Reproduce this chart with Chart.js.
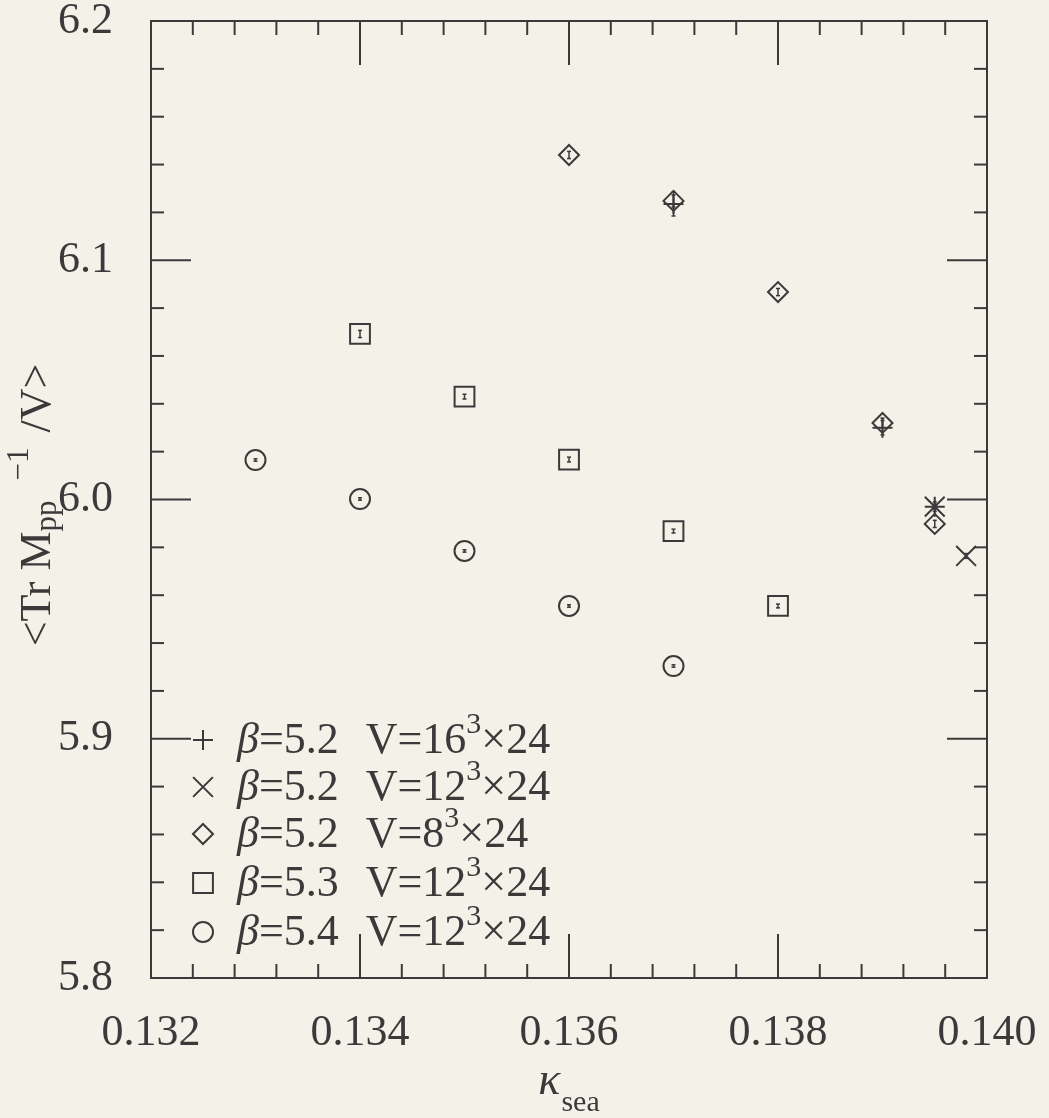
<!DOCTYPE html>
<html lang="en">
<head>
  <meta charset="UTF-8">
  <title>Tr M_pp^-1 / V versus kappa_sea</title>
  <script src="https://cdn.jsdelivr.net/npm/chart.js"></script>
  <style>
    html, body {
      margin: 0;
      padding: 0;
      background: #f4f1e8;
    }
    #wrap {
      width: 1049px;
      height: 1118px;
    }
  </style>
</head>
<body>
  <div id="wrap"><canvas id="traceChart" width="1049" height="1118"></canvas></div>

  <script>
    // beta = 5.2, V = 16^3 x 24
    const kappaA = [0.137, 0.139, 0.1395];
    const traceA = [6.1235, 6.030, 5.997];
    const errA = [0.005, 0.003, 0.002];

    // beta = 5.2, V = 12^3 x 24
    const kappaB = [0.1395, 0.1398];
    const traceB = [5.997, 5.9764];
    const errB = [0.001, 0.001];

    // beta = 5.2, V = 8^3 x 24
    const kappaC = [0.136, 0.137, 0.138, 0.139, 0.1395];
    const traceC = [6.144, 6.1248, 6.0867, 6.032, 5.9898];
    const errC = [0.0015, 0.0025, 0.0015, 0.002, 0.0015];

    // beta = 5.3, V = 12^3 x 24
    const kappaD = [0.134, 0.135, 0.136, 0.137, 0.138];
    const traceD = [6.0692, 6.043, 6.0167, 5.9868, 5.9555];
    const errD = [0.0015, 0.001, 0.001, 0.0008, 0.0008];

    // beta = 5.4, V = 12^3 x 24
    const kappaE = [0.133, 0.134, 0.135, 0.136, 0.137];
    const traceE = [6.0165, 6.0002, 5.9785, 5.9555, 5.9304];
    const errE = [0.0005, 0.0005, 0.0005, 0.0005, 0.0005];

    // legend text pieces
    const betaLabels = ['5.2', '5.2', '5.2', '5.3', '5.4'];
    const spatialSizes = ['16', '12', '8', '12', '12'];
    const timeSize = '24';

    // axis ranges and tick spacing
    const xMin = 0.132, xMax = 0.140, xStep = 0.002, xMinor = 0.0004;
    const yMin = 5.8, yMax = 6.2, yStep = 0.1, yMinor = 0.02;

    const ink = '#3a3a3a';
    const serif = '"Liberation Serif", "DejaVu Serif", serif';

    const toPoints = (xs, ys) => xs.map((k, i) => ({ x: k, y: ys[i] }));

    const markers = [
      { style: 'cross', radius: 10 },
      { style: 'crossRot', radius: 14 },
      { style: 'rectRot', radius: 10 },
      { style: 'rect', radius: 14 },
      { style: 'circle', radius: 10 }
    ];

    const series = [
      [kappaA, traceA, errA],
      [kappaB, traceB, errB],
      [kappaC, traceC, errC],
      [kappaD, traceD, errD],
      [kappaE, traceE, errE]
    ];

    const datasets = series.map(([xs, ys, es], i) => ({
      label: 'beta=' + betaLabels[i] + ' V=' + spatialSizes[i] + '^3x' + timeSize,
      data: toPoints(xs, ys),
      errors: es,
      pointStyle: markers[i].style,
      pointRadius: markers[i].radius,
      pointHoverRadius: markers[i].radius,
      pointBorderWidth: 2,
      borderColor: ink,
      backgroundColor: 'rgba(0,0,0,0)',
      showLine: false
    }));

    function seg(ctx, x1, y1, x2, y2) {
      ctx.beginPath();
      ctx.moveTo(x1, y1);
      ctx.lineTo(x2, y2);
      ctx.stroke();
    }

    // box around the plot with inward ticks on all four sides
    const frameTicks = {
      id: 'frameTicks',
      beforeDatasetsDraw(chart) {
        const { ctx, chartArea: a, scales: { x, y } } = chart;
        ctx.save();
        ctx.strokeStyle = ink;
        ctx.lineWidth = 2;
        ctx.strokeRect(a.left, a.top, a.right - a.left, a.bottom - a.top);
        const nx = Math.round((xMax - xMin) / xMinor);
        for (let i = 0; i <= nx; i++) {
          const px = x.getPixelForValue(xMin + i * xMinor);
          const len = i % 5 === 0 ? 44 : 14;
          seg(ctx, px, a.bottom, px, a.bottom - len);
          seg(ctx, px, a.top, px, a.top + len);
        }
        const ny = Math.round((yMax - yMin) / yMinor);
        for (let i = 0; i <= ny; i++) {
          const py = y.getPixelForValue(yMin + i * yMinor);
          const len = i % 5 === 0 ? 40 : 13;
          seg(ctx, a.left, py, a.left + len, py);
          seg(ctx, a.right, py, a.right - len, py);
        }
        ctx.restore();
      }
    };

    // small vertical error bars with caps
    const errorBars = {
      id: 'errorBars',
      afterDatasetsDraw(chart) {
        const { ctx, scales: { x, y } } = chart;
        ctx.save();
        ctx.strokeStyle = ink;
        ctx.lineWidth = 1.5;
        chart.data.datasets.forEach(ds => {
          ds.data.forEach((p, i) => {
            const e = ds.errors[i];
            const px = x.getPixelForValue(p.x);
            const top = y.getPixelForValue(p.y + e);
            const bot = y.getPixelForValue(p.y - e);
            seg(ctx, px, top, px, bot);
            seg(ctx, px - 2, top, px + 2, top);
            seg(ctx, px - 2, bot, px + 2, bot);
          });
        });
        ctx.restore();
      }
    };

    // draws a run of text pieces: [text, size, italic, dy, gap before]
    function drawPieces(ctx, pieces, x, y) {
      let cx = x;
      pieces.forEach(([t, size, italic, dy, gap]) => {
        cx += gap || 0;
        ctx.font = (italic ? 'italic ' : '') + size + 'px ' + serif;
        ctx.fillText(t, cx, y + (dy || 0));
        cx += ctx.measureText(t).width;
      });
      return cx - x;
    }

    function piecesWidth(ctx, pieces) {
      let w = 0;
      pieces.forEach(([t, size, italic, dy, gap]) => {
        ctx.font = (italic ? 'italic ' : '') + size + 'px ' + serif;
        w += ctx.measureText(t).width + (gap || 0);
      });
      return w;
    }

    // legend in the lower-left corner and the two axis titles
    const annotations = {
      id: 'annotations',
      afterDraw(chart) {
        const { ctx, chartArea: a } = chart;
        ctx.save();
        ctx.strokeStyle = ink;
        ctx.textBaseline = 'alphabetic';
        ctx.textAlign = 'left';

        const rowY = [740, 787, 834, 883, 932];
        datasets.forEach((ds, i) => {
          ctx.lineWidth = 2;
          ctx.fillStyle = 'rgba(0,0,0,0)';
          Chart.helpers.drawPoint(ctx, {
            pointStyle: markers[i].style,
            radius: markers[i].radius,
            rotation: 0,
            borderWidth: 2
          }, 203, rowY[i]);
          ctx.fillStyle = ink;
          drawPieces(ctx, [
            ['\u03B2', 44, true],
            ['=' + betaLabels[i], 44, false],
            ['V=' + spatialSizes[i], 44, false, 0, 27],
            ['3', 30, false, -20],
            ['\u00D7' + timeSize, 44, false]
          ], 237, rowY[i] + 13);
        });

        ctx.fillStyle = ink;

        // x title
        const xt = [['\u03BA', 46, true], ['sea', 30, false, 17, 1]];
        const xw = piecesWidth(ctx, xt);
        drawPieces(ctx, xt, (a.left + a.right) / 2 - xw / 2, 1094);

        // y title, rotated
        const yt = [
          ['<Tr M', 44, false],
          ['pp', 31, false, 6],
          ['\u22121', 31, false, -22, 20],
          [' /V>', 44, false, 0, 4]
        ];
        const yw = piecesWidth(ctx, yt);
        ctx.translate(50, 505);
        ctx.rotate(-Math.PI / 2);
        drawPieces(ctx, yt, -yw / 2, 0);
        ctx.restore();
      }
    };

    // keep the plot area fixed: no automatic label overhang padding
    function fixPadding(scale) {
      scale.paddingTop = 0;
      scale.paddingBottom = 0;
      scale.paddingLeft = 0;
      scale.paddingRight = 0;
    }

    const tickFont = { family: serif, size: 44, lineHeight: 0.9 };

    new Chart(document.getElementById('traceChart'), {
      type: 'scatter',
      data: { datasets },
      options: {
        responsive: false,
        animation: false,
        devicePixelRatio: 1,
        layout: { padding: { top: 21, right: 62, left: 0, bottom: 0 } },
        plugins: {
          legend: { display: false },
          tooltip: { enabled: false }
        },
        scales: {
          x: {
            type: 'linear',
            min: xMin,
            max: xMax,
            grid: { display: false, drawTicks: false },
            border: { display: false },
            ticks: {
              stepSize: xStep,
              autoSkip: false,
              maxRotation: 0,
              padding: 36,
              color: ink,
              font: tickFont,
              callback: v => Number(v).toFixed(3)
            },
            afterFit(scale) { scale.height = 140; fixPadding(scale); }
          },
          y: {
            min: yMin,
            max: yMax,
            grid: { display: false, drawTicks: false },
            border: { display: false },
            ticks: {
              stepSize: yStep,
              autoSkip: false,
              padding: 38,
              color: ink,
              font: tickFont,
              callback: v => Number(v).toFixed(1)
            },
            afterFit(scale) { scale.width = 151; fixPadding(scale); }
          }
        }
      },
      plugins: [frameTicks, errorBars, annotations]
    });
  </script>
</body>
</html>
